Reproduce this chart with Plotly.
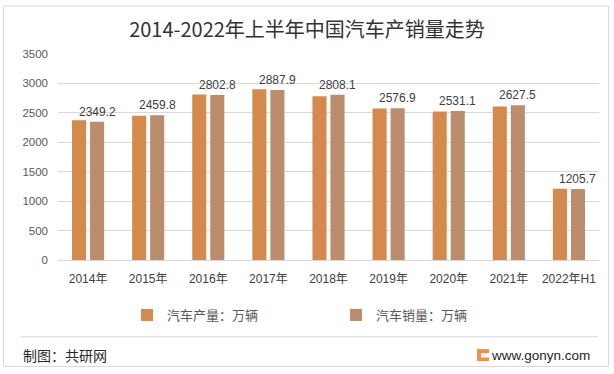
import plotly.graph_objects as go

categories = ["2014年", "2015年", "2016年", "2017年", "2018年", "2019年", "2020年", "2021年", "2022年H1"]
production = [2372.3, 2450.3, 2811.9, 2901.5, 2780.9, 2572.1, 2522.5, 2608.2, 1211.7]
sales = [2349.2, 2459.8, 2802.8, 2887.9, 2808.1, 2576.9, 2531.1, 2627.5, 1205.7]
series_names = ["汽车产量：万辆", "汽车销量：万辆"]
y_ticks = [0, 500, 1000, 1500, 2000, 2500, 3000, 3500]

W, H = 614, 374
L, R, T, B = 58, 15, 54, 114
PW, PH = W - L - R, H - T - B

def px(x):
    return (x - L) / PW

def py(y):
    return (H - B - y) / PH

FONT = "Liberation Sans, Noto Sans CJK SC, sans-serif"

fig = go.Figure()
fig.add_trace(go.Bar(x=categories, y=production, name=series_names[0],
                     marker=dict(color="#D48A4C", line=dict(width=0))))
fig.add_trace(go.Bar(x=categories, y=sales, name=series_names[1],
                     marker=dict(color="#BB8D6C", line=dict(width=0))))

annotations = []
for c, v in zip(categories, sales):
    annotations.append(dict(x=c, y=v, xref="x", yref="y", text=f"{v:.1f}",
                            showarrow=False, xshift=9, yshift=10, yanchor="middle",
                            font=dict(family=FONT, size=12, color="#404040")))

annotations.append(dict(x=px(21), y=py(355), xref="paper", yref="paper", text="制图：共研网",
                        showarrow=False, xanchor="left", yanchor="middle",
                        font=dict(family="Noto Sans CJK SC", size=14, color="#262626")))
annotations.append(dict(x=px(592), y=py(355), xref="paper", yref="paper", text="www.gonyn.com",
                        showarrow=False, xanchor="right", yanchor="middle",
                        font=dict(family="Liberation Sans, sans-serif", size=13.5, color="#262626")))

shapes = [
    dict(type="rect", xref="paper", yref="paper", x0=px(3.5), x1=px(608.5), y0=py(366.5), y1=py(6),
         line=dict(color="#D9D9D9", width=1), fillcolor="rgba(0,0,0,0)", layer="below"),
    dict(type="line", xref="paper", yref="paper", x0=px(20.7), x1=px(598), y0=py(336.7), y1=py(336.7),
         line=dict(color="#D9D9D9", width=1)),
    dict(type="rect", xref="paper", yref="paper", x0=px(477), x1=px(489), y0=py(361), y1=py(349),
         line=dict(width=0), fillcolor="#F0904A"),
    dict(type="rect", xref="paper", yref="paper", x0=px(481), x1=px(489), y0=py(357.5), y1=py(353),
         line=dict(width=0), fillcolor="#FFFFFF"),
]

fig.update_layout(
    width=W, height=H,
    margin=dict(l=L, r=R, t=T, b=B),
    paper_bgcolor="white", plot_bgcolor="white",
    barmode="group", bargap=0.4, bargroupgap=0.22,
    title=dict(text="2014-2022年上半年中国汽车产销量走势", x=0.5, xref="container",
               y=1 - 30 / H, yref="container", xanchor="center", yanchor="middle",
               font=dict(family="Noto Sans CJK SC", size=20, color="#333333")),
    xaxis=dict(showgrid=False, showline=False, ticks="", ticklabelstandoff=10,
               tickfont=dict(family=FONT, size=12, color="#404040")),
    yaxis=dict(range=[0, 3500], tickvals=y_ticks, showgrid=True, gridcolor="#D9D9D9", gridwidth=1,
               zeroline=True, zerolinecolor="#D9D9D9", zerolinewidth=1, showline=False, ticks="",
               ticklabelstandoff=9, tickfont=dict(family=FONT, size=11.5, color="#595959")),
    legend=dict(orientation="h", x=px(127), xanchor="left", y=py(315), yanchor="middle",
                entrywidth=164, font=dict(family="Noto Sans CJK SC", size=13, color="#595959"),
                bgcolor="rgba(0,0,0,0)"),
    annotations=annotations,
    shapes=shapes,
)

fig.write_html("out.html", config={"displayModeBar": False},
               post_script="document.body.style.margin='0px';")
